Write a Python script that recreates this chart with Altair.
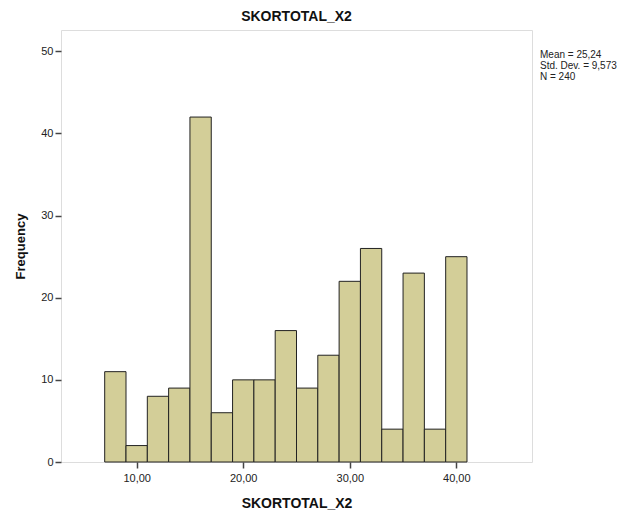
import altair as alt
import pandas as pd

bin_start = [7, 9, 11, 13, 15, 17, 19, 21, 23, 25, 27, 29, 31, 33, 35, 37, 39]
bin_end = [9, 11, 13, 15, 17, 19, 21, 23, 25, 27, 29, 31, 33, 35, 37, 39, 41]
counts = [11, 2, 8, 9, 42, 6, 10, 10, 16, 9, 13, 22, 26, 4, 23, 4, 25]
x_ticks = [10, 20, 30, 40]
y_ticks = [0, 10, 20, 30, 40, 50]
stats_lines = ["Mean = 25,24", "Std. Dev. = 9,573", "N = 240"]

df = pd.DataFrame({"start": bin_start, "end": bin_end, "count": counts})
stats_df = pd.DataFrame({"k": [0]})

W, H = 471, 432

x_scale = alt.Scale(domain=[2.9, 47.1], nice=False, zero=False)
y_scale = alt.Scale(domain=[0, 52.6], nice=False)

bars = alt.Chart(df).mark_rect(
    fill="#D3CE98", stroke="#222222", strokeWidth=1
).encode(
    x=alt.X("start:Q", scale=x_scale, title="SKORTOTAL_X2",
            axis=alt.Axis(values=x_ticks, grid=False, domain=False,
                          labelExpr="replace(format(datum.value, '.2f'), '.', ',')",
                          labelFont="Liberation Sans", labelFontSize=11, labelColor="#222222",
                          tickColor="#444444", tickSize=6, tickWidth=1.5, labelPadding=4,
                          titleFont="Liberation Sans", titleFontSize=14, titleFontWeight="bold",
                          titleColor="#111111", titlePadding=13)),
    x2="end:Q",
    y=alt.Y("count:Q", scale=y_scale, title="Frequency",
            axis=alt.Axis(values=y_ticks, grid=False, domain=False,
                          labelFont="Liberation Sans", labelFontSize=11, labelColor="#222222",
                          tickColor="#444444", tickSize=6, tickWidth=1.5, labelPadding=2,
                          titleFont="Liberation Sans", titleFontSize=13, titleFontWeight="bold",
                          titleColor="#111111", titlePadding=13)),
)

stats = alt.Chart(stats_df).mark_text(
    align="left", baseline="middle", font="Liberation Sans", fontSize=10,
    lineHeight=11, color="#222222", text=stats_lines
).encode(
    x=alt.value(W + 8),
    y=alt.value(24.5),
)

chart = alt.layer(bars, stats).properties(
    width=W, height=H,
    autosize=alt.AutoSizeParams(type="none"),
    padding={"left": 53, "top": 22, "right": 96, "bottom": 50},
    title=alt.TitleParams("SKORTOTAL_X2", font="Liberation Sans", fontSize=14,
                          fontWeight="bold", color="#111111", offset=6, anchor="middle"),
).configure_view(
    fill="#F0F0F0", stroke="#555555", strokeWidth=1.5
).configure(background="white")

chart.save("out.html", embed_options={"renderer": "svg", "actions": False})
